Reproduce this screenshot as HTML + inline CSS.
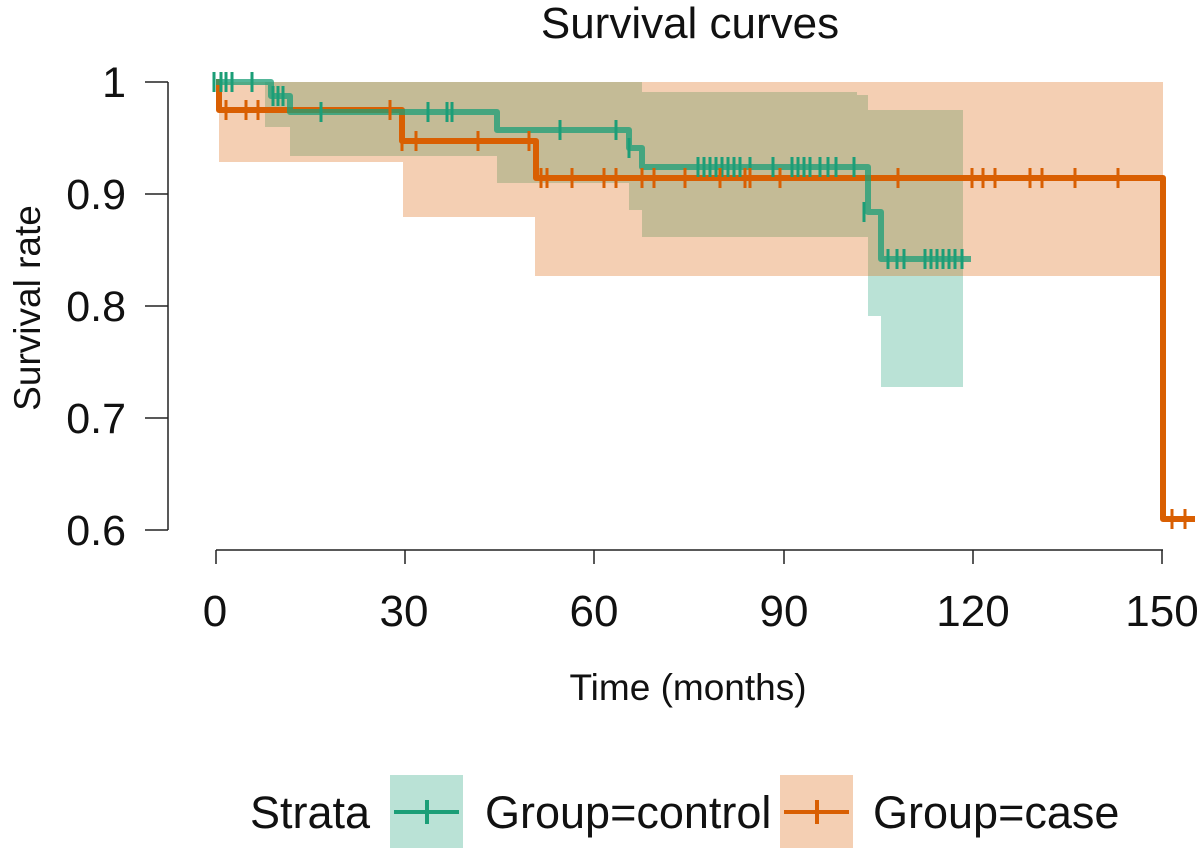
<!DOCTYPE html>
<html><head><meta charset="utf-8"><style>body{margin:0;background:#fff}svg{display:block}text{font-family:"Liberation Sans",Arial,sans-serif;fill:#111}</style></head>
<body>
<svg width="1200" height="851" viewBox="0 0 1200 851" xmlns="http://www.w3.org/2000/svg">
<!-- bands -->
<path fill="#1b9e77" fill-opacity="0.3" d="M265,82 H642 V92 H857 V95 H868 V110 H963 V387 H881 V316 H868 V237 H642 V210 H629 V183 H497 V156 H290 V127 H265 Z"/>
<path fill="#d95f02" fill-opacity="0.3" d="M219,82 H1163 V276 H535 V217 H403 V162 H219 Z"/>
<!-- curves -->
<g fill="none" stroke-width="6" stroke-linejoin="round">
<path stroke="#d95f02" d="M216,82 H219 V110 H402 V141 H536 V178 H1163 V519 H1195"/>
<path stroke="#1b9e77" stroke-opacity="0.75" d="M216,82 H271 V96 H290 V112 H497 V130 H629 V148 H642 V167 H868 V212 H881 V259 H971"/>
</g>
<!-- censor ticks -->
<g stroke="#1b9e77" stroke-width="3">
<path d="M214,72v20M221,72v20M226,72v20M232,72v20M252,72v20M273,86v20M278,86v20M283,86v20M321,102v20M428,102v20M447,102v20M452,102v20M560,120v20M616,120v20M629,138v20"/>
<path d="M698,157v20M704,157v20M710,157v20M716,157v20M722,157v20M728,157v20M734,157v20M740,157v20M750,157v20M773,157v20M792,157v20M798,157v20M804,157v20M810,157v20M820,157v20M828,157v20M836,157v20M854,157v20M864,202v20M888,249v20M897,249v20M904,249v20M925,249v20M931,249v20M937,249v20M943,249v20M949,249v20M955,249v20M962,249v20"/>
</g>
<g stroke="#d95f02" stroke-width="3">
<path d="M226,100v20M246,100v20M258,100v20M390,100v20M402,131v20M416,131v20M478,131v20M529,131v20"/>
<path d="M541,168v20M547,168v20M572,168v20M604,168v20M616,168v20M642,168v20M654,168v20M685,168v20M720,168v20M745,168v20M750,168v20M780,168v20M898,168v20M972,168v20M983,168v20M995,168v20M1030,168v20M1042,168v20M1075,168v20M1118,168v20M1172,509v20M1185,509v20"/>
</g>
<!-- axes -->
<g stroke="#222" stroke-width="1.5" fill="none">
<path d="M168,82V530M145,82H168M145,194H168M145,306H168M145,418H168M145,530H168"/>
<path d="M216,550H1163M216,550v14M405,550v14M594,550v14M784,550v14M973,550v14M1162,550v14"/>
</g>
<g font-size="43" text-anchor="end">
<text x="126" y="97">1</text><text x="126" y="209">0.9</text><text x="126" y="321">0.8</text><text x="126" y="433">0.7</text><text x="126" y="545">0.6</text>
</g>
<g font-size="44" text-anchor="middle">
<text x="215" y="626">0</text><text x="404" y="626">30</text><text x="594" y="626">60</text><text x="784" y="626">90</text><text x="973" y="626">120</text><text x="1162" y="626">150</text>
</g>
<text x="690" y="38" font-size="44" text-anchor="middle">Survival curves</text>
<text x="688" y="700" font-size="37" text-anchor="middle">Time (months)</text>
<text transform="translate(40,308) rotate(-90)" font-size="37" text-anchor="middle">Survival rate</text>
<!-- legend -->
<text x="250" y="828" font-size="45">Strata</text>
<rect x="390" y="775" width="73" height="73" fill="#1b9e77" fill-opacity="0.3"/>
<path d="M394,812H459M427,800v24" stroke="#1b9e77" stroke-width="4"/>
<text x="485" y="828" font-size="45">Group=control</text>
<rect x="780" y="775" width="73" height="73" fill="#d95f02" fill-opacity="0.3"/>
<path d="M784,812H849M817,800v24" stroke="#d95f02" stroke-width="4"/>
<text x="873" y="828" font-size="45">Group=case</text>
</svg>
</body></html>
